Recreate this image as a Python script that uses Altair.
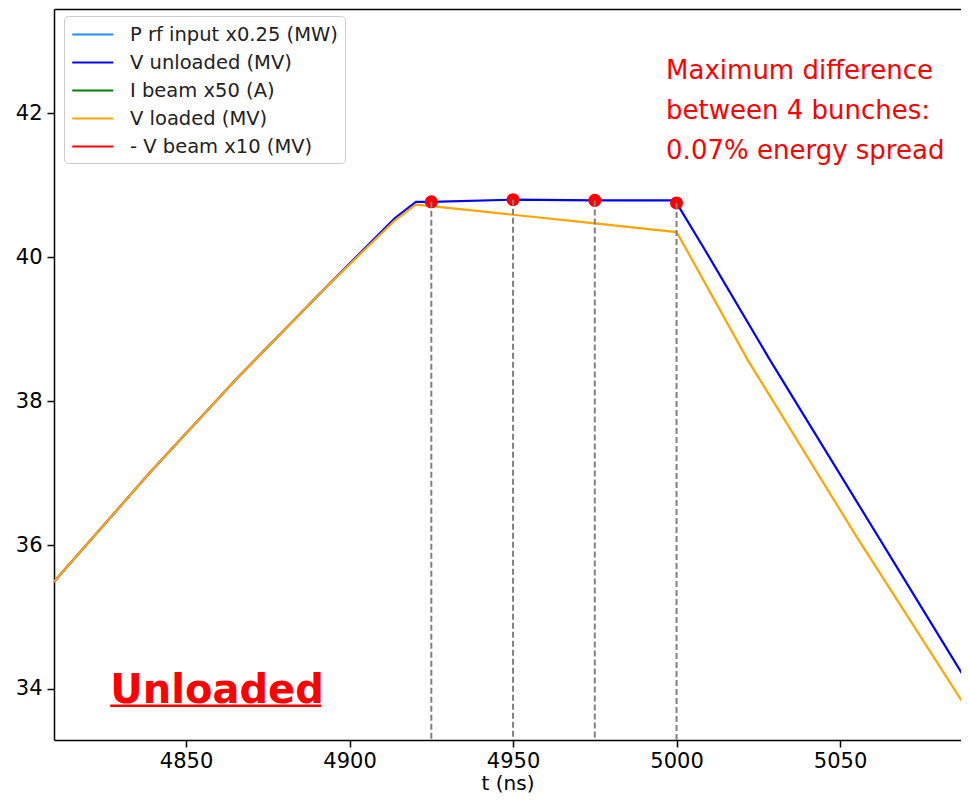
import altair as alt
import pandas as pd

# ---- data ----
series_names = ["P rf input x0.25 (MW)", "V unloaded (MV)", "I beam x50 (A)",
                "V loaded (MV)", "- V beam x10 (MV)"]
series_colors = ["#1e90ff", "#0000ff", "#008000", "#ffa500", "#ff0000"]

t_unloaded = [4809.6, 4839.0, 4865.0, 4892.5, 4913.8, 4920.3, 4925.0, 4950.0,
              4975.0, 4999.5, 5000.0, 5008.7, 5028.6, 5089.4]
v_unloaded = [35.49, 37.01, 38.29, 39.57, 40.54, 40.77, 40.77, 40.80,
              40.79, 40.79, 40.755, 40.10, 38.57, 34.06]

t_loaded = [4809.6, 4839.0, 4865.0, 4892.5, 4913.8, 4920.2, 4925.0, 4950.0,
            4975.0, 5000.0, 5003.1, 5021.8, 5055.0, 5089.4]
v_loaded = [35.49, 37.01, 38.29, 39.57, 40.51, 40.73, 40.71, 40.59,
            40.47, 40.35, 40.10, 38.57, 36.12, 33.68]

bunch_t = [4925, 4950, 4975, 5000]
bunch_v = [40.77, 40.80, 40.79, 40.755]

x_domain = [4809.6, 5087.0]
y_domain = [33.29, 43.45]
x_ticks = [4850, 4900, 4950, 5000, 5050]
y_ticks = [34, 36, 38, 40, 42]

note_text = "Maximum difference\nbetween 4 bunches:\n0.07% energy spread"
note_pos = [4996.8, 42.775]
label_text = "Unloaded"
label_pos = [4826.8, 33.81]
underline_x = [4826.8, 4891.3]
underline_y = 33.765

# ---- tables ----
rows = []
for i, (t, v) in enumerate(zip(t_unloaded, v_unloaded)):
    rows.append({"t": t, "v": v, "series": series_names[1], "idx": i})
for i, (t, v) in enumerate(zip(t_loaded, v_loaded)):
    rows.append({"t": t, "v": v, "series": series_names[3], "idx": i})
lines_df = pd.DataFrame(rows)

bunch_df = pd.DataFrame({"t": bunch_t, "v": bunch_v, "vb": [y_domain[0]] * len(bunch_t)})
note_df = pd.DataFrame({"t": [note_pos[0]], "v": [note_pos[1]], "txt": [note_text]})
label_df = pd.DataFrame({"t": [label_pos[0]], "v": [label_pos[1]], "txt": [label_text]})
ul_df = pd.DataFrame({"t": [underline_x[0]], "t2": [underline_x[1]], "v": [underline_y]})

xs = alt.Scale(domain=x_domain, nice=False, zero=False)
ys = alt.Scale(domain=y_domain, nice=False, zero=False)

font = "DejaVu Sans"

y_axis = alt.Axis(values=y_ticks, grid=False, tickSize=7, tickColor="black", tickWidth=1.5,
                  domainColor="black", domainWidth=1.5, labelFont=font, labelFontSize=21,
                  labelColor="black", labelPadding=5, title=None, minExtent=41, maxExtent=41)
x_axis = alt.Axis(values=x_ticks, format="d", grid=False, tickSize=7, tickColor="black",
                  tickWidth=1.5, domainColor="black", domainWidth=1.5, labelFont=font,
                  labelFontSize=21, labelColor="black", labelPadding=3, title="t (ns)",
                  titleFont=font, titleFontSize=20, titleFontWeight="normal",
                  titleColor="black", titlePadding=2)
top_axis = alt.Axis(orient="top", labels=False, ticks=False, grid=False, title=None,
                    domainColor="black", domainWidth=1.5, minExtent=0, maxExtent=0)

Y = alt.Y("v:Q", scale=ys, axis=y_axis)

lines = alt.Chart(lines_df).mark_line(strokeWidth=2.2, clip=True).encode(
    x=alt.X("t:Q", scale=xs, axis=x_axis),
    y=Y,
    color=alt.Color("series:N",
                    scale=alt.Scale(domain=series_names, range=series_colors),
                    legend=alt.Legend(orient="none", legendX=10, legendY=7, title=None,
                                      symbolType="M-1,0L3,0", symbolSize=420,
                                      symbolStrokeWidth=2, labelFont=font,
                                      labelFontSize=19.5, labelColor="#222222",
                                      labelLimit=400, labelOffset=36, rowPadding=7,
                                      padding=7, strokeColor="#cccccc",
                                      fillColor="white", cornerRadius=4)),
    detail="series:N",
    order="idx:Q",
)

dots = alt.Chart(bunch_df).mark_point(filled=True, color="#ff0000", size=170, opacity=1).encode(
    x=alt.X("t:Q", scale=xs, axis=None), y=Y)

rules = alt.Chart(bunch_df).mark_rule(color="#808080", strokeWidth=2, strokeDash=[6, 3]).encode(
    x=alt.X("t:Q", scale=xs, axis=None), y=Y, y2="vb:Q")

note = alt.Chart(note_df).mark_text(align="left", baseline="top", font=font, fontSize=26,
                                    color="#ff0000", lineBreak="\n", lineHeight=40).encode(
    x=alt.X("t:Q", scale=xs, axis=None), y=Y, text="txt:N")

label = alt.Chart(label_df).mark_text(align="left", baseline="alphabetic", font=font,
                                      fontSize=40, fontWeight="bold", color="#ff0000").encode(
    x=alt.X("t:Q", scale=xs, axis=None), y=Y, text="txt:N")

underline = alt.Chart(ul_df).mark_rule(color="#ff0000", strokeWidth=2.5).encode(
    x=alt.X("t:Q", scale=xs, axis=None), x2="t2:Q", y=Y)

top = alt.Chart(bunch_df).mark_point(opacity=0).encode(
    x=alt.X("t:Q", scale=xs, axis=top_axis), y=Y)

chart = alt.layer(lines, dots, rules, note, label, underline, top).resolve_axis(
    x="independent"
).properties(
    width=907, height=731,
    autosize=alt.AutoSizeParams(type="none"),
    padding={"left": 46, "top": 1, "right": 0, "bottom": 55},
).configure_view(stroke=None)

chart.save("out.html", embed_options={"renderer": "svg", "actions": False})
